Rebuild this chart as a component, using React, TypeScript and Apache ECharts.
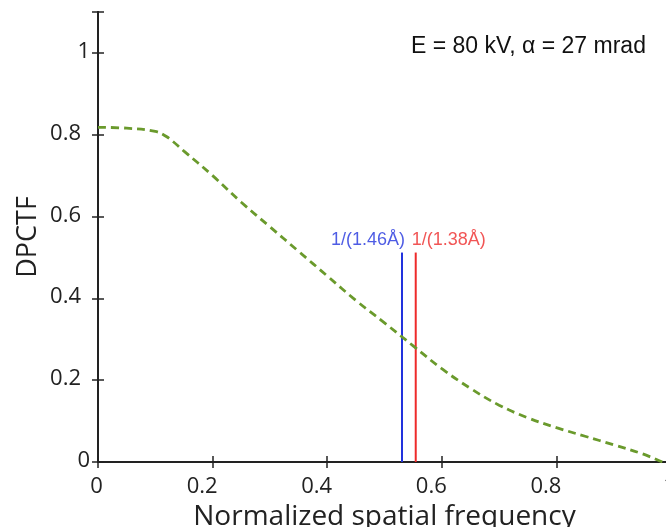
import React, { useEffect, useRef } from "react";
import * as echarts from "echarts";

const freq = [0, 0.05, 0.1, 0.12, 0.15, 0.2, 0.25, 0.3, 0.35, 0.4, 0.45, 0.5, 0.55, 0.6, 0.65, 0.7, 0.75, 0.8, 0.85, 0.9, 0.95, 0.985];
const dpctf = [0.818, 0.816, 0.808, 0.795, 0.76, 0.7, 0.635, 0.575, 0.515, 0.455, 0.395, 0.34, 0.284, 0.228, 0.18, 0.139, 0.108, 0.084, 0.063, 0.042, 0.02, 0.0];
const cutoffX = [0.5305, 0.5545];
const cutoffLabels = ["1/(1.46Å)", "1/(1.38Å)"];
const cutoffColors = ["#2233dd", "#ee2a2a"];
const cutoffHeight = 0.512;
const annotation = "E = 80 kV, α = 27 mrad";

export default function App() {
  const ref = useRef<HTMLDivElement>(null);
  useEffect(() => {
    const chart = echarts.init(ref.current!, null, { renderer: "svg" });
    const axisLine = { show: true, lineStyle: { color: "#222", width: 2 } };
    const axisTick = { show: true, inside: true, length: 6, lineStyle: { color: "#222", width: 1.5 } };
    const tickFont = { fontFamily: "Open Sans", fontSize: 22, lineHeight: 20, color: "#222" };
    const curve = freq.map((f, i) => [f, dpctf[i]]);
    const series: any[] = [
      {
        type: "line",
        data: curve,
        showSymbol: false,
        smooth: 0.4,
        lineStyle: { color: "#6a9a2c", width: 2.8, type: [8, 5] },
        z: 3,
      },
    ];
    cutoffX.forEach((x, i) => {
      series.push({
        type: "line",
        data: [[x, 0], [x, cutoffHeight]],
        showSymbol: false,
        lineStyle: { color: cutoffColors[i], width: 2 },
        z: 2,
      });
      series.push({
        type: "scatter",
        data: [[x, cutoffHeight]],
        symbolSize: 1,
        itemStyle: { color: "rgba(0,0,0,0)" },
        label: {
          show: true,
          position: "top",
          distance: 4,
          align: i === 0 ? "right" : "left",
          offset: i === 0 ? [3, 0] : [-4, 0],
          formatter: cutoffLabels[i],
          fontFamily: "Liberation Sans",
          fontSize: 18,
          color: cutoffColors[i],
        },
      });
    });
    chart.setOption({
      animation: false,
      grid: { left: 98, width: 573, top: 12, bottom: 65, outerBoundsMode: "none", containLabel: false },
      xAxis: [
        {
          type: "value",
          min: 0,
          max: 1,
          interval: 0.2,
          axisLine,
          axisTick,
          splitLine: { show: false },
          name: "Normalized spatial frequency",
          nameLocation: "middle",
          nameGap: 36,
          nameTextStyle: { fontFamily: "Open Sans", fontSize: 28, lineHeight: 26, color: "#222" },
          axisLabel: {
            margin: 12,
            formatter: (v: number) => (v === 0 || v === 1 ? `{s|${v}}` : `{m|${v}}`),
            rich: {
              s: { ...tickFont, padding: [0, 3, 0, 0] },
              m: { ...tickFont, padding: [0, 21, 0, 0] },
            },
          },
        },
        {
          type: "value",
          position: "top",
          min: 0,
          max: 1,
          interval: 0.2,
          axisLine,
          axisTick,
          axisLabel: { show: false },
          splitLine: { show: false },
        },
      ],
      yAxis: [
        {
          type: "value",
          min: 0,
          max: 1.1,
          interval: 0.2,
          axisLine,
          axisTick,
          splitLine: { show: false },
          name: "DPCTF",
          nameLocation: "middle",
          nameGap: 49,
          nameTextStyle: { fontFamily: "Open Sans", fontSize: 27, color: "#222" },
          axisLabel: {
            margin: 8,
            align: "right",
            formatter: (v: number) => (v > 1.05 ? "" : v === 0 || v === 1 ? `{s|${v}}` : `{m|${v}}`),
            rich: {
              s: { ...tickFont, padding: [0, 0, 8, 0] },
              m: { ...tickFont, padding: [0, 9, 8, 0] },
            },
          },
        },
        {
          type: "value",
          position: "right",
          min: 0,
          max: 1.1,
          interval: 0.2,
          axisLine,
          axisTick,
          axisLabel: { show: false },
          splitLine: { show: false },
        },
      ],
      graphic: [
        {
          type: "text",
          left: 411,
          top: 33,
          style: { text: annotation, fontFamily: "Liberation Sans", fontSize: 23, fill: "#111" },
        },
      ],
      series,
    });
    return () => chart.dispose();
  }, []);
  return <div ref={ref} style={{ position: "fixed", left: 0, top: 0, width: 666, height: 527 }} />;
}
